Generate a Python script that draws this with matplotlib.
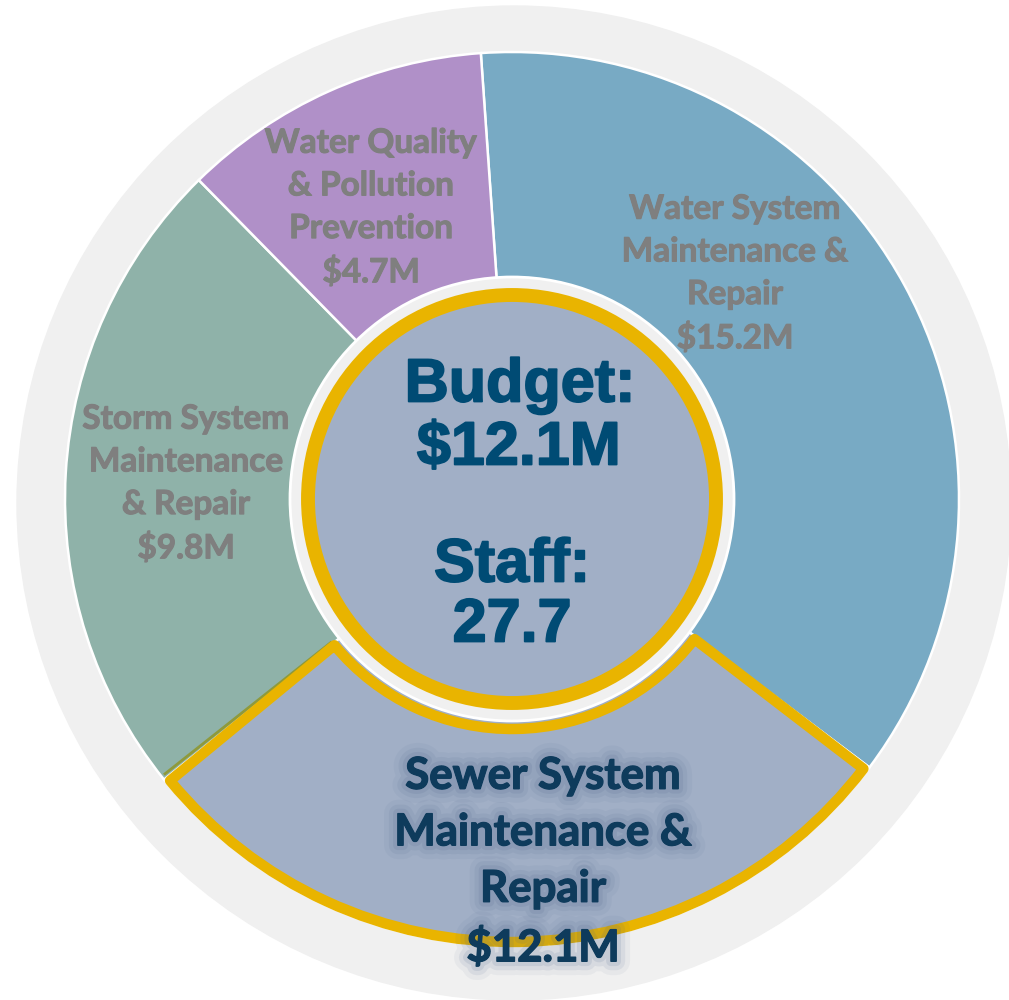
import matplotlib
matplotlib.use("Agg")
import matplotlib.pyplot as plt
import matplotlib.patheffects as pe
import numpy as np
from matplotlib.patches import Circle, Wedge

# ── data ──────────────────────────────────────────────────────────────────────
programs = [
    "Water System\nMaintenance &\nRepair",
    "Sewer System\nMaintenance &\nRepair",
    "Storm System\nMaintenance\n& Repair",
    "Water Quality\n& Pollution\nPrevention",
]
budget_m = [15.2, 12.1, 9.8, 4.7]
highlight = 1  # sewer
center_budget = "$12.1M"
center_staff = "27.7"

# ── style ─────────────────────────────────────────────────────────────────────
colors = ["#78AAC4", "#A1AFC6", "#8FB2A9", "#B090C8"]
GOLD = "#E9B400"
RING_BG = "#F0F0F0"
LABEL_GRAY = "#7F7F7F"
NAVY = "#0E3B5C"
CENTER_BLUE = "#004B74"

W, H = 1009, 1000
cx, cy = 512, H - 499          # pie centre (y up)
R_OUT, R_IN = 447, 222
# label centres, offsets from pie centre in px (x right, y up)
label_off = [(223, 225), (31, -363), (-326, 15), (-141, 291)]

fig = plt.figure(figsize=(W / 100, H / 100), dpi=100)
ax = fig.add_axes([0, 0, 1, 1])

ax.add_patch(Circle((cx + 2, cy - 4), 497, color=RING_BG, zorder=0))

wedges, _ = ax.pie(
    budget_m, colors=colors, startangle=94, counterclock=False,
    radius=R_OUT, center=(cx, cy), frame=True,
    wedgeprops=dict(width=R_OUT - R_IN + 10, edgecolor="white", linewidth=1.8),
)
ax.set_xlim(0, W)
ax.set_ylim(0, H)
ax.set_aspect("equal")
ax.axis("off")

# highlighted wedge gets a gold outline
hw = wedges[highlight]
ax.add_patch(Wedge((cx, cy), R_OUT - 4, hw.theta1 + 0.6, hw.theta2 - 0.6,
                   width=R_OUT - R_IN - 12, facecolor=colors[highlight],
                   edgecolor=GOLD, linewidth=7.5, joinstyle="round", zorder=3))

# thin olive shadow on the storm side of the sewer/storm boundary
a = np.deg2rad(hw.theta1 - 0.5)
ax.plot([cx + (R_IN + 8) * np.cos(a), cx + (R_OUT - 3) * np.cos(a)],
        [cy + (R_IN + 8) * np.sin(a), cy + (R_OUT - 3) * np.sin(a)],
        color="#8E9A3C", lw=2, zorder=2.5, solid_capstyle="butt")

# centre hub
ax.add_patch(Circle((cx, cy), R_IN, facecolor=RING_BG, edgecolor="white", lw=2, zorder=4))
ax.add_patch(Circle((cx, cy), 204, facecolor=colors[highlight], edgecolor=GOLD, lw=10, zorder=5))

for i, (txt, val) in enumerate(zip(programs, budget_m)):
    dx, dy = label_off[i]
    label = f"{txt}\n${val}M"
    if i == highlight:
        glow = [pe.withStroke(linewidth=20, foreground="#4A6188", alpha=0.06),
                pe.withStroke(linewidth=13, foreground="#4A6188", alpha=0.09),
                pe.withStroke(linewidth=7, foreground="#4A6188", alpha=0.12),
                pe.withStroke(linewidth=1.0, foreground=NAVY)]
        ax.text(cx + dx, cy + dy, label, ha="center", va="center", color=NAVY,
                fontsize=31.5, fontweight="bold", family="Lato", linespacing=1.5,
                path_effects=glow, zorder=6)
    else:
        ax.text(cx + dx, cy + dy, label, ha="center", va="center", color=LABEL_GRAY,
                fontsize=24, fontweight="bold", family="Lato", linespacing=1.57,
                path_effects=[pe.withStroke(linewidth=0.8, foreground=LABEL_GRAY)],
                zorder=6)

center_kw = dict(ha="center", va="center", color=CENTER_BLUE, fontsize=44,
                 fontweight="bold", family="Liberation Sans", zorder=6,
                 path_effects=[pe.withStroke(linewidth=1.3, foreground=CENTER_BLUE)])
ax.text(cx + 8, H - 386, "Budget:", **center_kw)
ax.text(cx + 7, H - 449, center_budget, **center_kw)
ax.text(cx + 0, H - 566, "Staff:", **center_kw)
ax.text(cx + 0, H - 626, center_staff, **center_kw)

fig.savefig("out.png", dpi=100, facecolor="white")
